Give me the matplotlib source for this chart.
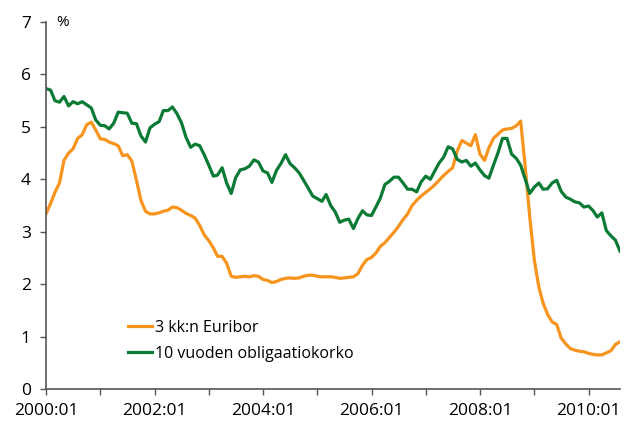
import numpy as np
import pandas as pd
import matplotlib
matplotlib.use('Agg')
import matplotlib.pyplot as plt
import matplotlib.dates as mdates

plt.rcParams['font.family'] = ['Open Sans', 'DejaVu Sans']

# Monthly data 2000:01 - 2010:08
START = "2000-01-01"

euribor_3m = [
    3.34, 3.54, 3.75, 3.93, 4.36, 4.50, 4.58, 4.78, 4.85, 5.04, 5.09, 4.94,
    4.77, 4.76, 4.71, 4.68, 4.64, 4.45, 4.47, 4.35, 3.98, 3.60, 3.39, 3.34,
    3.34, 3.36, 3.39, 3.41, 3.47, 3.46, 3.41, 3.35, 3.31, 3.26, 3.12, 2.94,
    2.83, 2.69, 2.53, 2.53, 2.40, 2.15, 2.13, 2.14, 2.15, 2.14, 2.16, 2.15,
    2.09, 2.07, 2.03, 2.05, 2.09, 2.11, 2.12, 2.11, 2.12, 2.15, 2.17, 2.17,
    2.15, 2.14, 2.14, 2.14, 2.13, 2.11, 2.12, 2.13, 2.14, 2.20, 2.36, 2.47,
    2.51, 2.60, 2.72, 2.79, 2.89, 2.99, 3.10, 3.23, 3.34, 3.50, 3.60, 3.68,
    3.75, 3.82, 3.89, 3.98, 4.07, 4.15, 4.22, 4.54, 4.74, 4.69, 4.64, 4.85,
    4.48, 4.36, 4.60, 4.78, 4.86, 4.94, 4.96, 4.97, 5.02, 5.11, 4.24, 3.29,
    2.46, 1.94, 1.64, 1.42, 1.28, 1.23, 0.97, 0.86, 0.77, 0.74, 0.72, 0.71,
    0.68, 0.66, 0.65, 0.65, 0.69, 0.73, 0.85, 0.90,
]

bond_10y = [
    5.73, 5.70, 5.50, 5.47, 5.58, 5.40, 5.48, 5.44, 5.48, 5.42, 5.36, 5.13,
    5.03, 5.02, 4.96, 5.07, 5.28, 5.27, 5.26, 5.07, 5.06, 4.83, 4.71, 4.98,
    5.05, 5.10, 5.31, 5.31, 5.38, 5.25, 5.08, 4.80, 4.61, 4.67, 4.64, 4.47,
    4.27, 4.06, 4.08, 4.22, 3.93, 3.73, 4.03, 4.18, 4.20, 4.25, 4.37, 4.33,
    4.16, 4.12, 3.94, 4.17, 4.30, 4.47, 4.30, 4.22, 4.12, 3.98, 3.83, 3.68,
    3.63, 3.58, 3.71, 3.50, 3.38, 3.18, 3.22, 3.24, 3.06, 3.25, 3.40, 3.32,
    3.31, 3.48, 3.64, 3.90, 3.96, 4.04, 4.04, 3.93, 3.81, 3.81, 3.76, 3.95,
    4.06, 4.00, 4.15, 4.31, 4.42, 4.62, 4.58, 4.38, 4.33, 4.36, 4.25, 4.31,
    4.18, 4.07, 4.02, 4.27, 4.50, 4.78, 4.78, 4.48, 4.40, 4.27, 4.00, 3.73,
    3.85, 3.93, 3.81, 3.82, 3.93, 3.98, 3.77, 3.66, 3.62, 3.57, 3.55, 3.47,
    3.49, 3.40, 3.28, 3.36, 3.02, 2.92, 2.84, 2.63,
]

labels = ["3 kk:n Euribor", "10 vuoden obligaatiokorko"]
colors = ["#F7941D", "#0B7A35"]

dates = pd.date_range(START, periods=len(euribor_3m), freq="MS")

fig = plt.figure(figsize=(6.38, 4.22), dpi=100)
ax = fig.add_axes([46 / 638, 33 / 422, 574 / 638, 367 / 422])

ax.plot(dates, euribor_3m, color=colors[0], lw=2.3, label=labels[0])
ax.plot(dates, bond_10y, color=colors[1], lw=2.3, label=labels[1])

ax.set_xlim(dates[0], dates[-1])
ax.set_ylim(0, 7)
ax.set_yticks(range(0, 8))

ax.xaxis.set_major_locator(mdates.YearLocator(2, month=1, day=1))
ax.xaxis.set_minor_locator(mdates.YearLocator(1, month=1, day=1))
ax.xaxis.set_major_formatter(mdates.DateFormatter("%Y:%m"))

for side in ["top", "right"]:
    ax.spines[side].set_visible(False)
for side in ["left", "bottom"]:
    ax.spines[side].set_color("#555555")
    ax.spines[side].set_linewidth(1.2)

ax.tick_params(axis="both", which="both", direction="out", length=4,
               width=1.0, color="#555555", labelsize=12.5)
ax.tick_params(axis="y", pad=7)
ax.tick_params(axis="x", pad=6)

ax.text(0.017, 1.0, "%", transform=ax.transAxes, fontsize=11,
        ha="left", va="center")

ax.legend(loc="upper left", bbox_to_anchor=(0.142, 0.188), frameon=False,
          fontsize=11.5, handlelength=1.55, handletextpad=0.15,
          labelspacing=0.6, borderpad=0, borderaxespad=0)

fig.savefig("out.png", dpi=100)
plt.close(fig)
